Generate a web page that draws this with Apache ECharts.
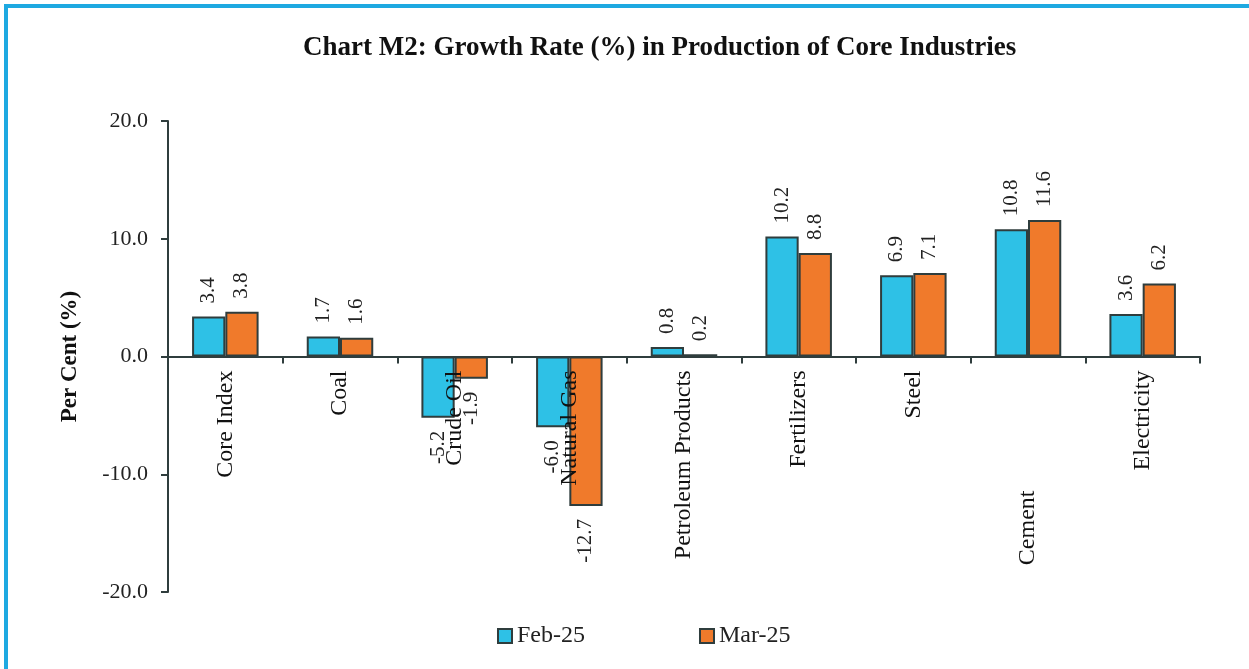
<!DOCTYPE html>
<html>
<head>
<meta charset="utf-8">
<script src="https://cdn.jsdelivr.net/npm/echarts@6/dist/echarts.min.js"></script>
<style>
  html, body { margin: 0; padding: 0; background: #fff; }
  #frame {
    position: absolute; left: 4px; top: 4px; right: 0; bottom: 0;
    border-top: 4px solid #1ea9e1; border-left: 4px solid #1ea9e1;
  }
  #chart { position: absolute; left: 0; top: 0; width: 1249px; height: 669px; }
</style>
</head>
<body>
<div id="frame"></div>
<div id="chart"></div>
<script>
const categories = ['Core Index', 'Coal', 'Crude Oil', 'Natural Gas', 'Petroleum Products', 'Fertilizers', 'Steel', 'Cement', 'Electricity']
const feb25 = [3.4, 1.7, -5.2, -6.0, 0.8, 10.2, 6.9, 10.8, 3.6]
const mar25 = [3.8, 1.6, -1.9, -12.7, 0.2, 8.8, 7.1, 11.6, 6.2]
const seriesNames = ['Feb-25', 'Mar-25']

const FONT = '"Liberation Serif", "DejaVu Serif", serif'
const edge = '#2f3d3d'

// grid geometry: zero sits halfway between -20 and 20
const gridTop = 121
const gridBottom = 77
const zeroOffset = -(669 - gridTop - gridBottom) / 2

const labelled = values => values.map(v => ({
  value: v,
  label: v >= 0
    ? { position: 'top', align: 'left' }
    : { position: 'bottom', align: 'right' }
}))

const makeSeries = (name, values, color) => ({
  name,
  type: 'bar',
  data: labelled(values),
  barGap: '0%',
  barCategoryGap: '42%',
  itemStyle: { color, borderColor: edge, borderWidth: 2 },
  label: {
    show: true,
    rotate: 90,
    distance: 13,
    verticalAlign: 'middle',
    color: '#222',
    fontFamily: FONT,
    fontSize: 21,
    formatter: p => p.value.toFixed(1)
  }
})

const chart = echarts.init(document.getElementById('chart'))
chart.setOption({
  backgroundColor: 'transparent',
  title: {
    text: 'Chart M2: Growth Rate (%) in Production of Core Industries',
    left: 298,
    top: 30,
    textStyle: { fontFamily: FONT, fontSize: 27, fontWeight: 'bold', color: '#111' }
  },
  grid: { left: 168, right: 49, top: gridTop, bottom: gridBottom, outerBoundsMode: 'none' },
  legend: {
    bottom: 16,
    left: 492,
    itemGap: 114,
    itemWidth: 14,
    itemHeight: 14,
    icon: 'rect',
    textStyle: { fontFamily: FONT, fontSize: 24, color: '#222' },
    data: seriesNames
  },
  xAxis: {
    type: 'category',
    data: categories,
    z: 5,
    offset: zeroOffset,
    axisLine: { onZero: false, lineStyle: { color: edge, width: 2 } },
    axisTick: { show: true, length: 7, lineStyle: { color: edge, width: 2 } },
    axisLabel: {
      rotate: 90,
      margin: 14,
      interval: 0,
      color: '#111',
      fontFamily: FONT,
      fontSize: 24,
      formatter: v => v === 'Cement' ? '{c|' + v + '}' : v,
      rich: { c: { fontFamily: FONT, fontSize: 24, color: '#111', padding: [0, 120, 0, 0] } }
    }
  },
  yAxis: {
    type: 'value',
    min: -20,
    max: 20,
    interval: 10,
    name: 'Per Cent (%)',
    nameLocation: 'middle',
    nameGap: 86,
    nameTextStyle: { fontFamily: FONT, fontSize: 23, fontWeight: 'bold', color: '#111' },
    axisLine: { show: true, lineStyle: { color: edge, width: 2 } },
    axisTick: { show: true, length: 7, lineStyle: { color: edge, width: 2 } },
    splitLine: { show: false },
    axisLabel: {
      margin: 20,
      color: '#222',
      fontFamily: FONT,
      fontSize: 22,
      formatter: v => v.toFixed(1)
    }
  },
  series: [
    makeSeries(seriesNames[0], feb25, '#2ec1e6'),
    makeSeries(seriesNames[1], mar25, '#f07a2b')
  ]
})
</script>
</body>
</html>
